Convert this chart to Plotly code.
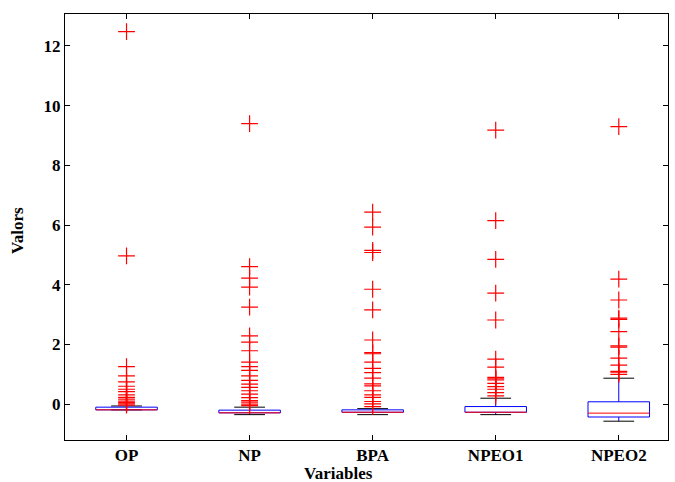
import plotly.graph_objects as go

# Variables and box-plot summary statistics
categories = ["OP", "NP", "BPA", "NPEO1", "NPEO2"]
q1 = [-0.19, -0.29, -0.27, -0.27, -0.43]
median = [-0.19, -0.29, -0.27, -0.27, -0.30]
q3 = [-0.10, -0.20, -0.19, -0.08, 0.08]
lower_whisker = [-0.19, -0.35, -0.35, -0.35, -0.57]
upper_whisker = [-0.06, -0.10, -0.15, 0.20, 0.87]

# Outlying observations per variable
outliers_op = [12.48, 4.97, 1.26, 0.95, 0.75, 0.60, 0.50, 0.42, 0.31, 0.23, 0.17,
               0.10, 0.05, 0.01, -0.03]
outliers_np = [9.40, 4.61, 4.22, 3.92, 3.25, 2.29, 2.08, 1.79, 1.41, 1.26, 1.13,
               0.95, 0.80, 0.67, 0.56, 0.45, 0.34, 0.22, 0.12, 0.07, 0.0, -0.05]
outliers_bpa = [6.43, 5.93, 5.15, 5.08, 3.85, 3.16, 2.15, 1.73, 1.69, 1.41, 1.20,
                1.06, 0.87, 0.68, 0.61, 0.45, 0.31, 0.23, 0.09, 0.01, -0.08]
outliers_npeo1 = [9.18, 6.15, 4.85, 3.72, 2.82, 1.51, 1.24, 0.90, 0.85, 0.81, 0.70,
                  0.59, 0.50, 0.39, 0.28]
outliers_npeo2 = [9.30, 4.19, 3.49, 2.88, 2.84, 2.43, 1.95, 1.91, 1.54, 1.31, 1.10,
                  1.07, 1.00]
outliers = [outliers_op, outliers_np, outliers_bpa, outliers_npeo1, outliers_npeo2]

positions = list(range(1, len(categories) + 1))
box_half = 0.25
cap_half = 0.125

box_x, box_y = [], []
med_x, med_y = [], []
wh_x, wh_y = [], []
cap_x, cap_y = [], []
out_x, out_y = [], []
for i, p in enumerate(positions):
    box_x += [p - box_half, p + box_half, p + box_half, p - box_half, p - box_half, None]
    box_y += [q1[i], q1[i], q3[i], q3[i], q1[i], None]
    med_x += [p - box_half, p + box_half, None]
    med_y += [median[i], median[i], None]
    wh_x += [p, p, None, p, p, None]
    wh_y += [q3[i], upper_whisker[i], None, q1[i], lower_whisker[i], None]
    cap_x += [p - cap_half, p + cap_half, None, p - cap_half, p + cap_half, None]
    cap_y += [upper_whisker[i], upper_whisker[i], None, lower_whisker[i], lower_whisker[i], None]
    out_x += [p] * len(outliers[i])
    out_y += outliers[i]

fig = go.Figure()
fig.add_trace(go.Scatter(x=wh_x, y=wh_y, mode="lines",
                         line=dict(color="#0000ff", width=1), hoverinfo="skip"))
fig.add_trace(go.Scatter(x=cap_x, y=cap_y, mode="lines",
                         line=dict(color="#000000", width=1), hoverinfo="skip"))
fig.add_trace(go.Scatter(x=box_x, y=box_y, mode="lines",
                         line=dict(color="#0000ff", width=1), hoverinfo="skip"))
fig.add_trace(go.Scatter(x=med_x, y=med_y, mode="lines",
                         line=dict(color="#ff0000", width=1), hoverinfo="skip"))
fig.add_trace(go.Scatter(x=out_x, y=out_y, mode="markers",
                         marker=dict(symbol="cross-thin", size=12,
                                     line=dict(color="#ff0000", width=1.2))))

font_family = "Liberation Serif, Times New Roman, serif"
label_font = dict(family=font_family, size=17, color="black", weight=700)

fig.update_layout(
    width=675, height=482,
    margin=dict(l=65, r=7, t=14, b=42, autoexpand=False),
    paper_bgcolor="white", plot_bgcolor="white",
    showlegend=False,
    font=dict(family=font_family, size=17, color="black"),
    xaxis=dict(
        range=[0.5, 5.4],
        tickmode="array", tickvals=positions, ticktext=categories,
        ticks="inside", ticklen=5, tickcolor="black",
        showline=True, linecolor="black", linewidth=1, mirror="ticks",
        showgrid=False, zeroline=False, automargin=False,
        tickfont=label_font,
    ),
    yaxis=dict(
        range=[-1.2, 13.07],
        tickmode="array", tickvals=[0, 2, 4, 6, 8, 10, 12],
        ticks="inside", ticklen=5, tickcolor="black",
        showline=True, linecolor="black", linewidth=1, mirror="ticks",
        showgrid=False, zeroline=False, automargin=False,
        tickfont=label_font,
    ),
    annotations=[
        dict(text="Variables", xref="paper", yref="paper", x=0.453, y=-0.0775,
             xanchor="center", yanchor="middle", showarrow=False, font=label_font),
        dict(text="Valors", xref="paper", yref="paper", x=-0.078, y=0.493,
             xanchor="center", yanchor="middle", textangle=-90, showarrow=False,
             font=label_font),
    ],
)

fig.write_html("out.html")
